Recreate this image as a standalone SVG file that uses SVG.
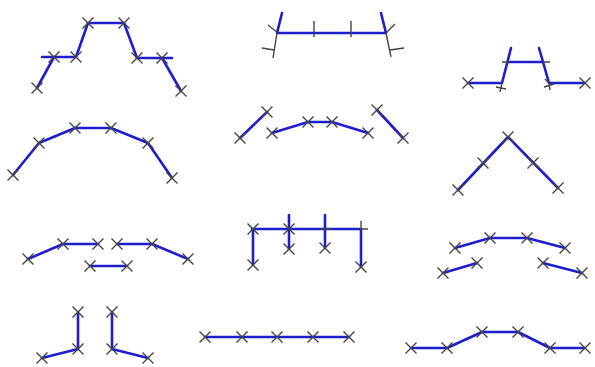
<svg xmlns="http://www.w3.org/2000/svg" xmlns:xlink="http://www.w3.org/1999/xlink" width="595" height="367" viewBox="0 0 595 367">
<style>
.b{fill:none;stroke:#1e1ecc;stroke-width:2.6;stroke-linejoin:round;stroke-linecap:round}
.g{fill:none;stroke:#444;stroke-width:1.4}
.x{fill:none;stroke:#444;stroke-width:1.4}
</style>
<defs>
<path id="x" class="x" d="M-5.5,-5.5L5.5,5.5M-5.5,5.5L5.5,-5.5"/>
</defs>
<rect width="595" height="367" fill="#fff"/>
<g id="connectors">
<path class="b" d="M37,88L54,57M42,57H76L88,23H124L137,58H172M162,58L181,91"/>
<path class="b" d="M278,33H386M282,13L277,33M381,13L386,33"/>
<path class="b" d="M468,83H502L511,48M508,62H543M539,48L549,83H585"/>
<path class="b" d="M13,175L39,143L75,128H111L148,143L172,178"/>
<path class="b" d="M240,138L267,112M272,133L308,122H332L368,133M377,110L403,138"/>
<path class="b" d="M458,190L508,137L558,188"/>
<path class="b" d="M28,259L63,244H98M117,244H152L188,259M90,266H127"/>
<path class="b" d="M252,229H360M253,229V265M289,215V249M325,215V248M361,229V267"/>
<path class="b" d="M455,248L490,238H527L565,248M443,273L477,263M543,263L582,273"/>
<path class="b" d="M78,312V349L42,358M112,312V349L148,358"/>
<path class="b" d="M205,337H349"/>
<path class="b" d="M411,348H447L482,332H518L550,348H585"/>
</g>
<g id="ticks">
<path class="g" d="M277,33L273,58M268,25L278,33M262,48L274,50M314,21V37M351,21V37M386,33L391,57M386,33L395,24M390,50L404,48"/>
<path class="g" d="M502,83L500,92M496,87L506,89M502,62H510M543,62H550M549,83L545,79M549,83L550,90M544,87L554,84"/>
<path class="g" d="M360,229H368M361,229V221M320,229H331"/>
</g>
<g id="markers">
<use xlink:href="#x" x="37" y="88"/><use xlink:href="#x" x="54" y="57"/><use xlink:href="#x" x="76" y="57"/><use xlink:href="#x" x="88" y="23"/><use xlink:href="#x" x="124" y="23"/><use xlink:href="#x" x="137" y="58"/><use xlink:href="#x" x="162" y="58"/><use xlink:href="#x" x="181" y="91"/>
<use xlink:href="#x" x="468" y="83"/><use xlink:href="#x" x="585" y="83"/>
<use xlink:href="#x" x="13" y="175"/><use xlink:href="#x" x="39" y="143"/><use xlink:href="#x" x="75" y="128"/><use xlink:href="#x" x="111" y="128"/><use xlink:href="#x" x="148" y="143"/><use xlink:href="#x" x="172" y="178"/>
<use xlink:href="#x" x="240" y="138"/><use xlink:href="#x" x="267" y="112"/><use xlink:href="#x" x="272" y="133"/><use xlink:href="#x" x="308" y="122"/><use xlink:href="#x" x="332" y="122"/><use xlink:href="#x" x="368" y="133"/><use xlink:href="#x" x="377" y="110"/><use xlink:href="#x" x="403" y="138"/>
<use xlink:href="#x" x="458" y="190"/><use xlink:href="#x" x="483" y="163"/><use xlink:href="#x" x="508" y="137"/><use xlink:href="#x" x="533" y="163"/><use xlink:href="#x" x="558" y="188"/>
<use xlink:href="#x" x="28" y="259"/><use xlink:href="#x" x="63" y="244"/><use xlink:href="#x" x="98" y="244"/><use xlink:href="#x" x="117" y="244"/><use xlink:href="#x" x="152" y="244"/><use xlink:href="#x" x="188" y="259"/><use xlink:href="#x" x="90" y="266"/><use xlink:href="#x" x="127" y="266"/>
<use xlink:href="#x" x="253" y="229"/><use xlink:href="#x" x="253" y="265"/><use xlink:href="#x" x="289" y="229"/><use xlink:href="#x" x="289" y="249"/><use xlink:href="#x" x="325" y="248"/><use xlink:href="#x" x="361" y="267"/>
<use xlink:href="#x" x="455" y="248"/><use xlink:href="#x" x="490" y="238"/><use xlink:href="#x" x="527" y="238"/><use xlink:href="#x" x="565" y="248"/><use xlink:href="#x" x="443" y="273"/><use xlink:href="#x" x="477" y="263"/><use xlink:href="#x" x="543" y="263"/><use xlink:href="#x" x="582" y="273"/>
<use xlink:href="#x" x="78" y="312"/><use xlink:href="#x" x="78" y="349"/><use xlink:href="#x" x="42" y="358"/><use xlink:href="#x" x="112" y="312"/><use xlink:href="#x" x="112" y="349"/><use xlink:href="#x" x="148" y="358"/>
<use xlink:href="#x" x="205" y="337"/><use xlink:href="#x" x="242" y="337"/><use xlink:href="#x" x="277" y="337"/><use xlink:href="#x" x="313" y="337"/><use xlink:href="#x" x="349" y="337"/>
<use xlink:href="#x" x="411" y="348"/><use xlink:href="#x" x="447" y="348"/><use xlink:href="#x" x="482" y="332"/><use xlink:href="#x" x="518" y="332"/><use xlink:href="#x" x="550" y="348"/><use xlink:href="#x" x="585" y="348"/>
</g>
</svg>
